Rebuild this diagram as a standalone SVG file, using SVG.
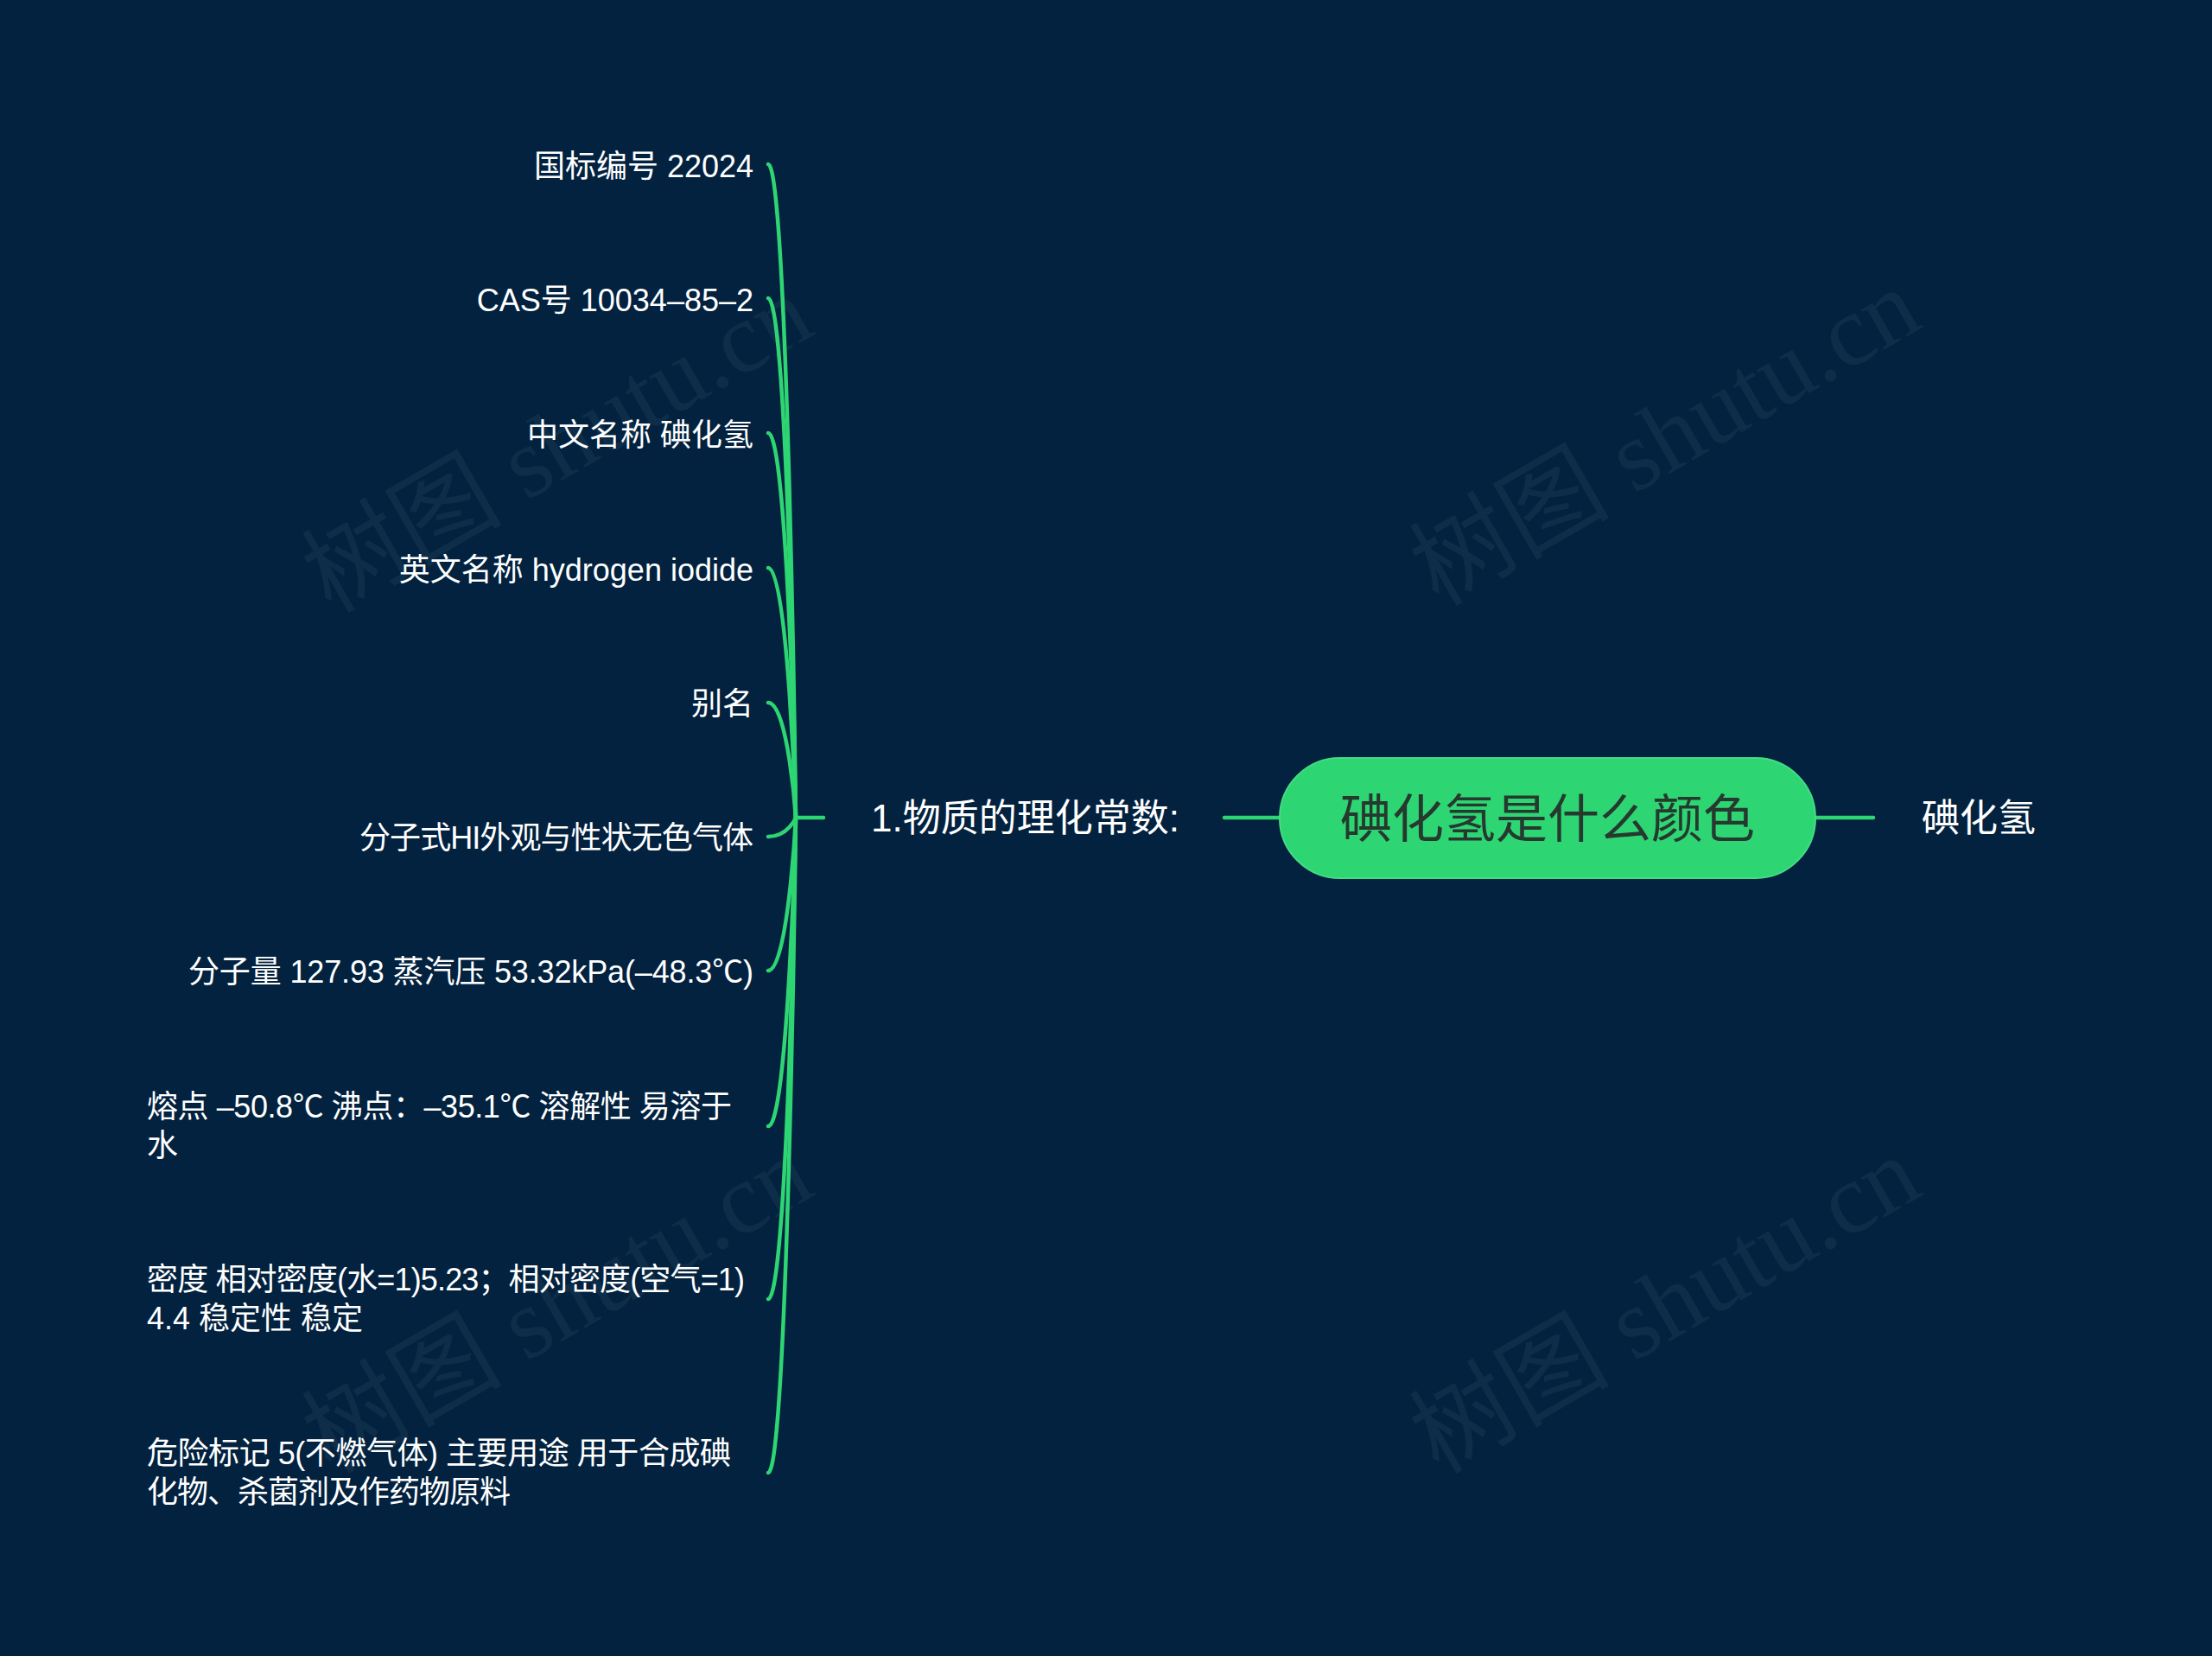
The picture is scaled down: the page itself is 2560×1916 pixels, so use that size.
<svg xmlns="http://www.w3.org/2000/svg" width="2560" height="1916" viewBox="0 0 2560 1916">
<style>
.bg{fill:#02223f}
.wm{font-family:"Liberation Serif","Noto Sans CJK SC",serif;font-size:116px;fill:#ffffff;fill-opacity:0.05}
.edge{fill:none;stroke:#2ed573;stroke-width:4.5;stroke-linecap:round}
.leaf{font-family:"Liberation Sans","Noto Sans CJK SC",sans-serif;font-size:36px;fill:#ffffff}
.mid{font-family:"Liberation Sans","Noto Sans CJK SC",sans-serif;font-size:44px;fill:#ffffff}
.root-box{fill:#2ed573;stroke:#45dc85;stroke-width:2}
.root-text{font-family:"Liberation Sans","Noto Sans CJK SC",sans-serif;font-size:60px;fill:#25392f;text-anchor:middle}
</style>
<rect class="bg" x="0" y="0" width="2560" height="1916"/>
<g id="watermarks">
<text class="wm" transform="translate(645,514) rotate(-30)" text-anchor="middle" dominant-baseline="central">树图 shutu.cn</text>
<text class="wm" transform="translate(1927,506) rotate(-30)" text-anchor="middle" dominant-baseline="central">树图 shutu.cn</text>
<text class="wm" transform="translate(645,1510) rotate(-30)" text-anchor="middle" dominant-baseline="central">树图 shutu.cn</text>
<text class="wm" transform="translate(1927,1510) rotate(-30)" text-anchor="middle" dominant-baseline="central">树图 shutu.cn</text>
</g>
<g id="connectors">
<line class="edge" x1="1481" y1="946" x2="1417" y2="946"/>
<line class="edge" x1="2101" y1="946" x2="2168" y2="946"/>
<line class="edge" x1="921" y1="946" x2="953" y2="946"/>
<path class="edge" d="M889,190 C912,190 921,946 921,946"/>
<path class="edge" d="M889,345 C912,345 921,946 921,946"/>
<path class="edge" d="M889,501 C912,501 921,946 921,946"/>
<path class="edge" d="M889,657 C912,657 921,946 921,946"/>
<path class="edge" d="M889,813 C912,813 921,946 921,946"/>
<path class="edge" d="M889,968 C912,968 921,946 921,946"/>
<path class="edge" d="M889,1123 C912,1123 921,946 921,946"/>
<path class="edge" d="M889,1303 C912,1303 921,946 921,946"/>
<path class="edge" d="M889,1503 C912,1503 921,946 921,946"/>
<path class="edge" d="M889,1704 C912,1704 921,946 921,946"/>
</g>
<g id="root">
<rect class="root-box" x="1481" y="877" width="620" height="139" rx="69.5" ry="69.5"/>
<text class="root-text" x="1791" y="969">碘化氢是什么颜色</text>
</g>
<g id="right-child">
<text class="mid" x="2224" y="962">碘化氢</text>
</g>
<g id="branch">
<text class="mid" x="1008" y="962">1.物质的理化常数:</text>
</g>
<g id="leaf1"><text class="leaf" x="872" y="205" text-anchor="end">国标编号 22024</text></g>
<g id="leaf2"><text class="leaf" x="872" y="360" text-anchor="end">CAS号 10034–85–2</text></g>
<g id="leaf3"><text class="leaf" x="872" y="516" text-anchor="end">中文名称 碘化氢</text></g>
<g id="leaf4"><text class="leaf" x="872" y="672" text-anchor="end">英文名称 hydrogen iodide</text></g>
<g id="leaf5"><text class="leaf" x="872" y="827" text-anchor="end">别名</text></g>
<g id="leaf6"><text class="leaf" x="872" y="982" text-anchor="end" textLength="456" lengthAdjust="spacing">分子式HI外观与性状无色气体</text></g>
<g id="leaf7"><text class="leaf" x="872" y="1137" text-anchor="end" textLength="654" lengthAdjust="spacing">分子量 127.93 蒸汽压 53.32kPa(–48.3℃)</text></g>
<g id="leaf8"><text class="leaf" x="170" y="1293" textLength="677" lengthAdjust="spacing">熔点 –50.8℃ 沸点：–35.1℃ 溶解性 易溶于</text><text class="leaf" x="170" y="1338">水</text></g>
<g id="leaf9"><text class="leaf" x="170" y="1493" textLength="692" lengthAdjust="spacing">密度 相对密度(水=1)5.23；相对密度(空气=1)</text><text class="leaf" x="170" y="1538">4.4 稳定性 稳定</text></g>
<g id="leaf10"><text class="leaf" x="170" y="1694" textLength="676" lengthAdjust="spacing">危险标记 5(不燃气体) 主要用途 用于合成碘</text><text class="leaf" x="170" y="1739" textLength="421" lengthAdjust="spacing">化物、杀菌剂及作药物原料</text></g>
</svg>
